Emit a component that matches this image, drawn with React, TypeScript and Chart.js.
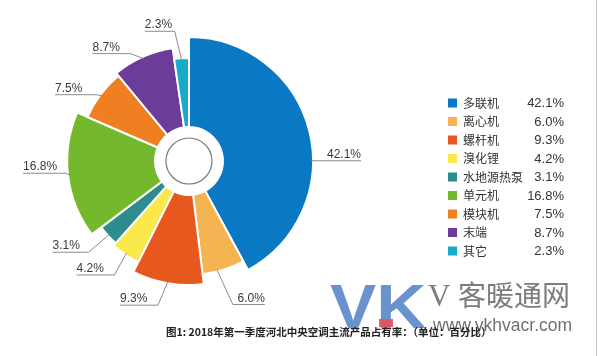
import React, { useEffect, useRef } from "react";
import { Chart, registerables } from "chart.js";
Chart.register(...registerables);

// ---- data ----
const categories = ["多联机", "离心机", "螺杆机", "溴化锂", "水地源热泵", "单元机", "模块机", "末端", "其它"];
const shares = [42.1, 6.0, 9.3, 4.2, 3.1, 16.8, 7.5, 8.7, 2.3];
const shareLabels = ["42.1%", "6.0%", "9.3%", "4.2%", "3.1%", "16.8%", "7.5%", "8.7%", "2.3%"];
const captionText = "图1: 2018年第一季度河北中央空调主流产品占有率：（单位：百分比）";

// ---- styles ----
const colors = ["#0b78c4", "#f5b452", "#e6581e", "#fbe84a", "#2c8c8e", "#73b82d", "#f07f22", "#6b3c98", "#19a9c9"];
const radiusScale = [1.008, 0.927, 1.008, 0.92, 0.895, 0.99, 0.9, 0.927, 0.837];
const labelFrac = [0.59, 0.65, 0.5, 0.5, 0.5, 0.5, 0.5, 0.5, 0.5];
const labelElbow = [[1, 1], [16, 35], [-10, 24], [-12, 22], [-21, 18], [-4, -2], [-6, -1], [-13, -5], [-7, -29]];
const labelLen = [49, 32, 38, 38, 36, 43, 41, 38, 30];

const NUM_FONT = '"Liberation Sans", Arial, "Noto Sans CJK SC", sans-serif';

const rosePlugin = {
  id: "rose",
  afterDatasetsUpdate(chart: any) {
    const meta = chart.getDatasetMeta(0);
    meta.data.forEach((arc: any, i: number) => {
      arc.outerRadius = arc.outerRadius * radiusScale[i];
    });
  },
  afterDatasetsDraw(chart: any) {
    const ctx = chart.ctx;
    const meta = chart.getDatasetMeta(0);
    const arcs = meta.data;
    if (!arcs.length) return;
    const cx = arcs[0].x;
    const cy = arcs[0].y;
    ctx.save();
    // inner circle outline
    ctx.beginPath();
    ctx.arc(cx, cy, 23, 0, Math.PI * 2);
    ctx.strokeStyle = "#7a7a7a";
    ctx.lineWidth = 1.2;
    ctx.stroke();
    // labels
    ctx.font = "12px " + NUM_FONT;
    arcs.forEach((arc: any, i: number) => {
      const a = arc.startAngle + (arc.endAngle - arc.startAngle) * labelFrac[i];
      const r = arc.outerRadius - 2;
      const ax = cx + r * Math.cos(a);
      const ay = cy + r * Math.sin(a);
      const ex = ax + labelElbow[i][0];
      const ey = ay + labelElbow[i][1];
      const right = Math.cos(a) > 0;
      const fx = right ? ex + labelLen[i] : ex - labelLen[i];
      ctx.beginPath();
      ctx.moveTo(ax, ay);
      ctx.lineTo(ex, ey);
      ctx.lineTo(fx, ey);
      ctx.strokeStyle = "#8c8c8c";
      ctx.lineWidth = 1;
      ctx.stroke();
      ctx.fillStyle = "#3a3a3a";
      ctx.textBaseline = "alphabetic";
      ctx.textAlign = right ? "right" : "left";
      ctx.fillText(shareLabels[i], fx, ey - 3);
    });
    ctx.restore();
  },
  afterDraw(chart: any) {
    const ctx = chart.ctx;
    ctx.save();
    // legend
    categories.forEach((name, i) => {
      const y = 103 + i * 18.5;
      ctx.fillStyle = colors[i];
      ctx.fillRect(448, y - 4.5, 9, 9);
      ctx.fillStyle = "#333";
      ctx.textBaseline = "middle";
      ctx.textAlign = "left";
      ctx.font = '12px "Noto Sans CJK SC", sans-serif';
      ctx.fillText(name, 463, y);
      ctx.textAlign = "right";
      ctx.font = "13px " + NUM_FONT;
      ctx.fillText(shareLabels[i], 564, y + 0.5);
    });
    // watermark
    ctx.textAlign = "left";
    ctx.textBaseline = "alphabetic";
    ctx.save();
    ctx.translate(330, 328);
    ctx.scale(1.1, 1);
    ctx.font = 'bold 63px "Liberation Sans", Arial, sans-serif';
    ctx.fillStyle = "rgba(80,128,198,0.85)";
    ctx.fillText("VK", 0, 0);
    ctx.restore();
    ctx.fillStyle = "rgba(232,80,90,0.9)";
    ctx.fillRect(379, 319, 14, 8);
    ctx.fillStyle = "rgba(110,110,110,0.9)";
    ctx.font = '31px "Liberation Serif", "DejaVu Serif", serif';
    ctx.fillText("V", 428, 306);
    ctx.font = '28px "Noto Sans CJK SC", sans-serif';
    ctx.fillText("客暖通网", 458, 306);
    ctx.font = '17.5px "Liberation Sans", Arial, sans-serif';
    ctx.fillStyle = "rgba(95,95,95,0.9)";
    ctx.fillText("www.ykhvacr.com", 433, 331);
    // caption
    ctx.fillStyle = "#222";
    ctx.font = 'bold 10.5px "Noto Sans CJK SC", sans-serif';
    ctx.textBaseline = "middle";
    ctx.fillText(captionText, 166, 332);
    // right border
    ctx.beginPath();
    ctx.moveTo(596.5, 0);
    ctx.lineTo(596.5, 356);
    ctx.strokeStyle = "#c8c8c8";
    ctx.lineWidth = 1;
    ctx.stroke();
    ctx.restore();
  },
};

export default function App() {
  const ref = useRef<HTMLCanvasElement>(null);
  useEffect(() => {
    if (!ref.current) return;
    const chart = new Chart(ref.current, {
      type: "doughnut",
      data: {
        labels: categories,
        datasets: [
          {
            data: shares,
            backgroundColor: colors,
            borderColor: "#ffffff",
            borderWidth: 2,
          },
        ],
      },
      options: {
        responsive: false,
        animation: false,
        events: [],
        cutout: 34,
        rotation: 0,
        layout: { padding: { left: 65, top: 37, right: 287, bottom: 71 } },
        plugins: { legend: { display: false }, tooltip: { enabled: false } },
      },
      plugins: [rosePlugin],
    });
    return () => chart.destroy();
  }, []);
  return (
    <div style={{ position: "absolute", left: 0, top: 0, width: 600, height: 356, background: "#fff" }}>
      <canvas ref={ref} width={600} height={356} style={{ width: 600, height: 356 }} />
    </div>
  );
}
